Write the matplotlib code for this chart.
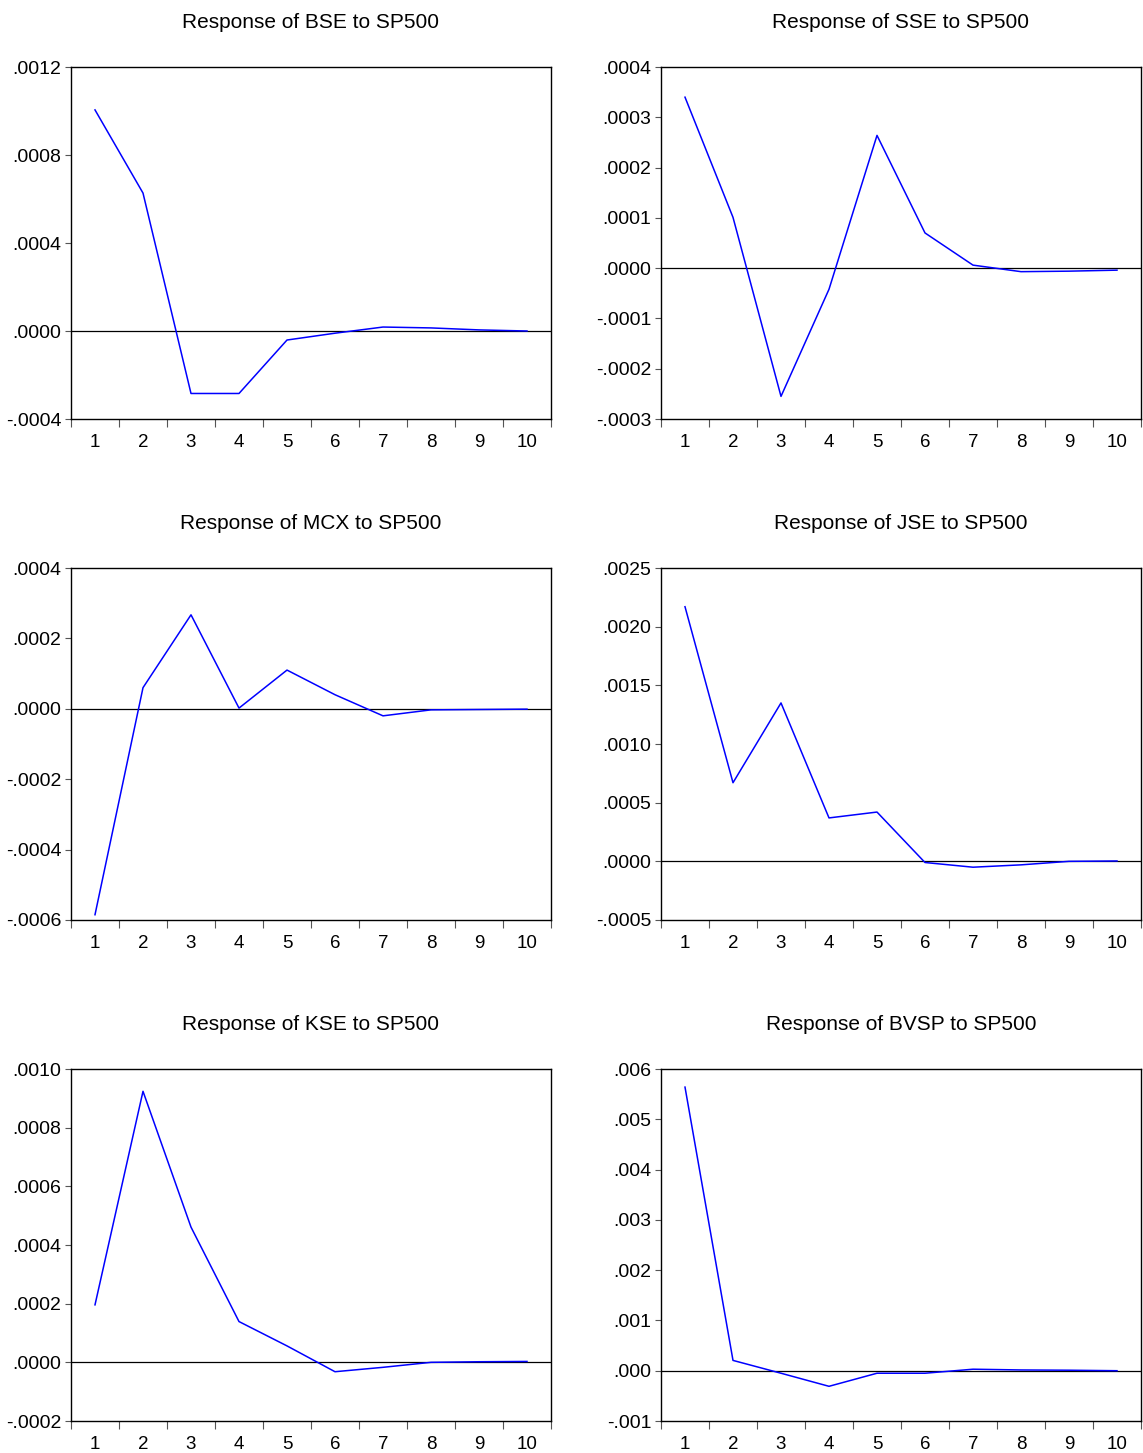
import numpy as np
import matplotlib
matplotlib.use("Agg")
import matplotlib.pyplot as plt
from matplotlib.ticker import FuncFormatter, FixedLocator

plt.rcParams['font.family'] = ['Liberation Sans Narrow', 'Liberation Sans', 'DejaVu Sans']

# impulse response horizon
periods = [1, 2, 3, 4, 5, 6, 7, 8, 9, 10]

# responses to an SP500 shock
bse = [0.001005, 0.000627, -0.000284, -0.000284, -0.000041, -0.00001, 0.000018, 0.000014, 0.000005, 0.0]
sse = [0.00034, 0.000101, -0.000255, -0.000042, 0.000264, 0.00007, 0.000006, -0.000007, -0.000006, -0.000004]
mcx = [-0.000585, 0.00006, 0.000267, 0.000002, 0.00011, 0.00004, -0.00002, -0.000003, -0.000002, -0.000001]
jse = [0.00217, 0.00067, 0.00135, 0.00037, 0.00042, -0.00001, -0.00005, -0.00003, 0.0, 0.000003]
kse = [0.000196, 0.000924, 0.000461, 0.000139, 0.000056, -0.000032, -0.000017, 0.0, 0.000002, 0.000003]
bvsp = [0.00564, 0.000205, -0.00005, -0.00031, -0.00005, -0.00005, 0.00003, 0.000015, 0.00001, 0.0]

titles = ["Response of BSE to SP500", "Response of SSE to SP500",
          "Response of MCX to SP500", "Response of JSE to SP500",
          "Response of KSE to SP500", "Response of BVSP to SP500"]
series = [bse, sse, mcx, jse, kse, bvsp]

# y-axis tick sets (EViews style labels)
yticks = [
    [-0.0004, 0.0, 0.0004, 0.0008, 0.0012],
    [-0.0003, -0.0002, -0.0001, 0.0, 0.0001, 0.0002, 0.0003, 0.0004],
    [-0.0006, -0.0004, -0.0002, 0.0, 0.0002, 0.0004],
    [-0.0005, 0.0, 0.0005, 0.0010, 0.0015, 0.0020, 0.0025],
    [-0.0002, 0.0, 0.0002, 0.0004, 0.0006, 0.0008, 0.0010],
    [-0.001, 0.0, 0.001, 0.002, 0.003, 0.004, 0.005, 0.006],
]
decimals = [4, 4, 4, 4, 4, 3]


def eviews_fmt(nd):
    def f(v, pos):
        s = f"{v:.{nd}f}"
        if s.startswith("-0."):
            s = "-" + s[2:]
        elif s.startswith("0."):
            s = s[1:]
        return s
    return f


W, H = 1143, 1453
fig = plt.figure(figsize=(W / 100, H / 100), dpi=100)

lefts = [71, 661]
tops = [67, 568, 1069]
aw, ah = 480, 352

for i, (vals, title) in enumerate(zip(series, titles)):
    r, c = divmod(i, 2)
    ax = fig.add_axes([lefts[c] / W, 1 - (tops[r] + ah) / H, aw / W, ah / H])
    ax.plot(periods, vals, color='#0000ff', lw=1.1)
    ax.axhline(0, color='black', lw=0.9, zorder=1)

    ax.set_xlim(0.5, 10.5)
    ax.set_ylim(yticks[i][0], yticks[i][-1])
    ax.set_yticks(yticks[i])
    ax.yaxis.set_major_formatter(FuncFormatter(eviews_fmt(decimals[i])))

    # tick marks between periods, labels centred on periods
    ax.xaxis.set_major_locator(FixedLocator(np.arange(0.5, 11, 1)))
    ax.xaxis.set_minor_locator(FixedLocator(periods))
    ax.xaxis.set_major_formatter(FuncFormatter(lambda v, p: ""))
    ax.xaxis.set_minor_formatter(FuncFormatter(lambda v, p: f"{int(round(v))}"))
    ax.tick_params(axis='x', which='major', direction='out', length=6, width=0.8, color='#555555')
    ax.tick_params(axis='x', which='minor', length=0, pad=10.5, labelsize=13.5)
    ax.tick_params(axis='y', direction='out', length=4, width=0.8, pad=3, labelsize=14, color='#555555')

    for sp in ax.spines.values():
        sp.set_linewidth(1.0)

    ax.set_title(title, fontsize=15, pad=28)

fig.savefig("out.png", dpi=100)
